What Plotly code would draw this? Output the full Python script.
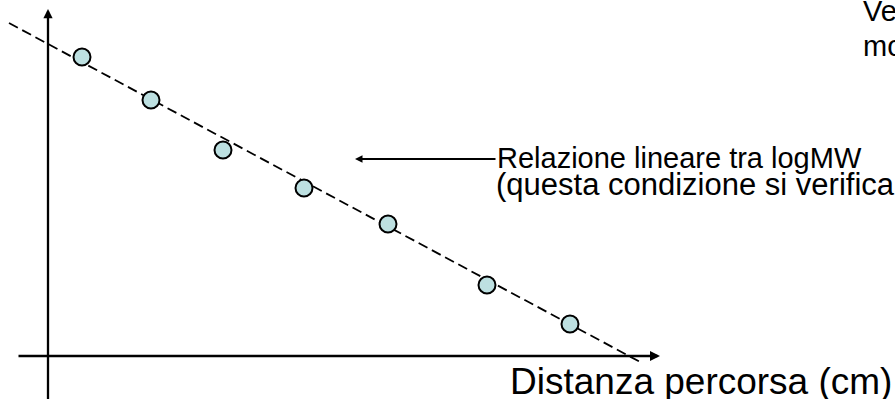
import plotly.graph_objects as go

# Data (arbitrary units: distance travelled and logMW)
distanza = [0.34, 1.03, 1.75, 2.56, 3.40, 4.39, 5.22]
logmw = [2.99, 2.56, 2.06, 1.68, 1.32, 0.71, 0.32]
retta_x = [-0.39, 5.94]
retta_y = [3.33, -0.07]

asse_x_label = "Distanza percorsa (cm)"
nota_riga1 = "Relazione lineare tra logMW"
nota_riga2 = "(questa condizione si verifica"
nota_alto1 = "Ve"
nota_alto2 = "mo"

W, H = 895, 399
X_RANGE = [-0.48, 8.47]
Y_RANGE = [-0.43, 3.56]
FONT = "Liberation Sans, Arial, sans-serif"

fig = go.Figure()
fig.add_trace(go.Scatter(
    x=retta_x, y=retta_y, mode="lines",
    line=dict(color="black", width=1.8, dash="10px,5px"),
    hoverinfo="skip", showlegend=False))
fig.add_trace(go.Scatter(
    x=distanza, y=logmw, mode="markers",
    marker=dict(size=17, color="#BDE0E1", line=dict(color="black", width=2)),
    showlegend=False))

ann = []
# axes with arrowheads
ann.append(dict(x=0, y=3.47, ax=0, ay=-0.45, xref="x", yref="y", axref="x", ayref="y",
                text="", showarrow=True, arrowhead=2, arrowsize=0.8, arrowwidth=2.3,
                arrowcolor="black", standoff=0, startstandoff=0))
ann.append(dict(x=6.12, y=0, ax=-0.31, ay=0, xref="x", yref="y", axref="x", ayref="y",
                text="", showarrow=True, arrowhead=2, arrowsize=0.8, arrowwidth=2.5,
                arrowcolor="black", standoff=0, startstandoff=0))
# pointer arrow
ann.append(dict(x=3.07, y=1.97, ax=4.49, ay=1.97, xref="x", yref="y", axref="x", ayref="y",
                text="", showarrow=True, arrowhead=2, arrowsize=0.75, arrowwidth=2,
                arrowcolor="black", standoff=0, startstandoff=0))

def txt(s, px, py, size):
    # px, py: page pixel position of the text's left edge / middle
    return dict(text=s, x=(px - 2) / W, y=1 - py / H,
                xref="paper", yref="paper",
                xanchor="left", yanchor="middle", showarrow=False,
                font=dict(family=FONT, size=size, color="black"))

ann.append(txt(nota_riga1, 497, 158, 29))
ann.append(txt(nota_riga2, 496, 184, 31))
ann.append(txt(nota_alto1, 863, 11, 29))
ann.append(txt(nota_alto2, 863, 46, 29))
ann.append(txt(asse_x_label, 510, 381, 37))

fig.update_layout(
    width=W, height=H, autosize=False,
    margin=dict(l=0, r=0, t=0, b=0, pad=0),
    paper_bgcolor="white", plot_bgcolor="white",
    xaxis=dict(range=X_RANGE, visible=False, fixedrange=True),
    yaxis=dict(range=Y_RANGE, visible=False, fixedrange=True),
    annotations=ann,
)
fig.write_html(
    "out.html",
    config={"displayModeBar": False, "staticPlot": True},
    post_script="document.body.style.margin='0';document.body.style.overflow='hidden';",
)
